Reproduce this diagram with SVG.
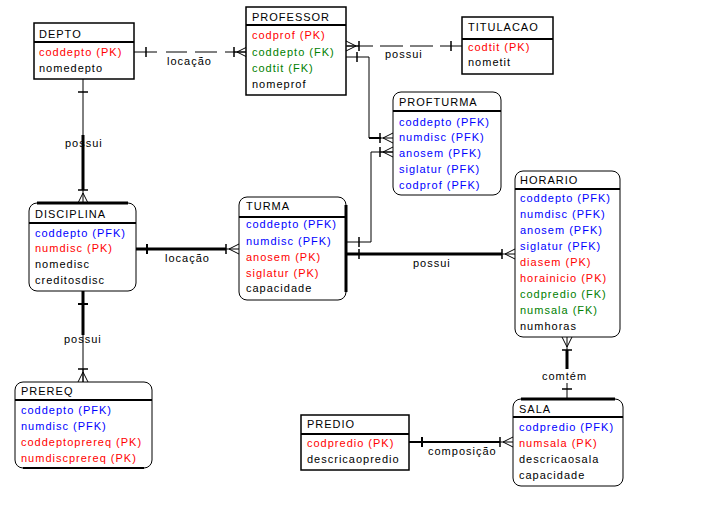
<svg xmlns="http://www.w3.org/2000/svg" xmlns:xlink="http://www.w3.org/1999/xlink" width="703" height="518" viewBox="0 0 703 518">
<style>
text{font-family:"Liberation Sans",Arial,sans-serif;font-size:11px;letter-spacing:1px;fill:#000}
.r{fill:#ff0000}.b{fill:#0000ff}.g{fill:#008000}
.box{fill:#fff;stroke:#000;stroke-width:1.5}
.rbox{fill:#fff;stroke:#000;stroke-width:1}
.div{stroke:#000;stroke-width:2}
.ln{fill:none;stroke:#000;stroke-width:1}
.thk{fill:none;stroke:#000;stroke-width:3}
.mid{fill:none;stroke:#000;stroke-width:2}
</style>
<defs>
<g id="crow" fill="none" stroke="#000" stroke-width="1"><path d="M-13,0 L0,0 M-10,0 L0,-5 M-10,0 L0,5"/><path d="M-13,-5 V5" stroke-width="1.5"/></g>
<path id="tick" d="M0,-5 V5" stroke="#000" stroke-width="1.5"/>
</defs>
<rect width="703" height="518" fill="#fff"/>

<g id="connectors">
<path class="ln" d="M134,52 H157 M166,52 H187 M195,52 H217 M225,52 H247"/>
<use xlink:href="#tick" transform="translate(146,52)"/>
<use xlink:href="#crow" transform="translate(247,52)"/>
<text x="167" y="65">locação</text>

<path class="ln" d="M347,46 H373 M380,46 H403 M410,46 H433 M440,46 H462"/>
<use xlink:href="#crow" transform="translate(346,46) rotate(180)"/>
<use xlink:href="#tick" transform="translate(451,46)"/>
<text x="385" y="58">possui</text>

<path class="ln" d="M346,57 H369 V138"/>
<path class="mid" d="M369,138 H381"/>
<use xlink:href="#tick" transform="translate(357,57)"/>
<use xlink:href="#crow" transform="translate(393,138)"/>

<path class="ln" d="M347,242 H371 V152 H393"/>
<use xlink:href="#tick" transform="translate(359,242)"/>
<use xlink:href="#crow" transform="translate(393,152)"/>

<path class="thk" d="M136,249 H226"/>
<path d="M147,244 V254" stroke="#000" stroke-width="2"/>
<use xlink:href="#crow" transform="translate(239,249)"/>
<text x="165" y="262">locação</text>

<path class="thk" d="M347,254 H502"/>
<use xlink:href="#tick" transform="translate(359,254)"/>
<use xlink:href="#crow" transform="translate(515,254)"/>
<text x="413" y="267">possui</text>

<path class="ln" d="M83,79 V135"/>
<path class="thk" d="M83,135 V190"/>
<path d="M78,92 H88" stroke="#000" stroke-width="1.5"/>
<use xlink:href="#crow" transform="translate(83,203) rotate(90)"/>
<text x="65" y="147">possui</text>

<path class="thk" d="M83,291 V335"/>
<path class="ln" d="M83,335 V382"/>
<path d="M78,304 H88" stroke="#000" stroke-width="2"/>
<use xlink:href="#crow" transform="translate(83,382) rotate(90)"/>
<text x="64" y="343">possui</text>

<path class="thk" d="M567,350 V369"/>
<path class="ln" d="M567,383 V399"/>
<use xlink:href="#crow" transform="translate(567,337) rotate(-90)"/>
<use xlink:href="#tick" transform="translate(567,389) rotate(90)"/>
<text x="542" y="380">comtém</text>

<path class="mid" d="M409,442 H500"/>
<path d="M422,437 V447" stroke="#000" stroke-width="2"/>
<use xlink:href="#crow" transform="translate(513,442)"/>
<text x="428" y="455">composição</text>
</g>

<g id="DEPTO">
<rect class="box" x="34" y="23" width="100" height="56"/>
<line class="div" x1="34" y1="42" x2="134" y2="42"/>
<text x="39" y="38">DEPTO</text>
<text x="39" y="56" class="r">coddepto (PK)</text>
<text x="39" y="72">nomedepto</text>
</g>

<g id="PROFESSOR">
<rect class="box" x="246" y="7" width="100" height="88"/>
<line class="div" x1="246" y1="25" x2="346" y2="25"/>
<text x="252" y="21">PROFESSOR</text>
<text x="252" y="39" class="r">codprof (PK)</text>
<text x="252" y="56" class="g">coddepto (FK)</text>
<text x="252" y="72" class="g">codtit (FK)</text>
<text x="252" y="88">nomeprof</text>
</g>

<g id="TITULACAO">
<rect class="box" x="462" y="17" width="91" height="57"/>
<line class="div" x1="462" y1="39" x2="553" y2="39"/>
<text x="468" y="31">TITULACAO</text>
<text x="468" y="51" class="r">codtit (PK)</text>
<text x="468" y="66">nometit</text>
</g>

<g id="PROFTURMA">
<rect class="rbox" x="393" y="92" width="108" height="103" rx="8"/>
<line class="div" x1="393" y1="111" x2="501" y2="111"/>
<text x="399" y="106">PROFTURMA</text>
<text x="399" y="126" class="b">coddepto (PFK)</text>
<text x="399" y="141" class="b">numdisc (PFK)</text>
<text x="399" y="157" class="b">anosem (PFK)</text>
<text x="399" y="173" class="b">siglatur (PFK)</text>
<text x="399" y="189" class="b">codprof (PFK)</text>
</g>

<g id="DISCIPLINA">
<rect class="rbox" x="29" y="203" width="107" height="88" rx="8"/>
<line class="thk" x1="37" y1="203" x2="128" y2="203"/>
<line class="div" x1="29" y1="223" x2="136" y2="223"/>
<text x="35" y="218">DISCIPLINA</text>
<text x="35" y="237" class="b">coddepto (PFK)</text>
<text x="35" y="252" class="r">numdisc (PK)</text>
<text x="35" y="268">nomedisc</text>
<text x="35" y="284">creditosdisc</text>
</g>

<g id="TURMA">
<rect class="rbox" x="239" y="197" width="107" height="103" rx="8"/>
<line class="thk" x1="346" y1="205" x2="346" y2="292"/>
<line class="div" x1="239" y1="217" x2="346" y2="217"/>
<text x="246" y="210">TURMA</text>
<text x="246" y="228" class="b">coddepto (PFK)</text>
<text x="246" y="245" class="b">numdisc (PFK)</text>
<text x="246" y="261" class="r">anosem (PK)</text>
<text x="246" y="277" class="r">siglatur (PK)</text>
<text x="246" y="292">capacidade</text>
</g>

<g id="HORARIO">
<rect class="rbox" x="515" y="171" width="105" height="166" rx="8"/>
<line class="div" x1="515" y1="189" x2="620" y2="189"/>
<text x="520" y="184">HORARIO</text>
<text x="520" y="202" class="b">coddepto (PFK)</text>
<text x="520" y="218" class="b">numdisc (PFK)</text>
<text x="520" y="234" class="b">anosem (PFK)</text>
<text x="520" y="250" class="b">siglatur (PFK)</text>
<text x="520" y="266" class="r">diasem (PK)</text>
<text x="520" y="282" class="r">horainicio (PK)</text>
<text x="520" y="298" class="g">codpredio (FK)</text>
<text x="520" y="314" class="g">numsala (FK)</text>
<text x="520" y="330">numhoras</text>
</g>

<g id="PREREQ">
<rect class="rbox" x="15" y="382" width="137" height="86" rx="8"/>
<line class="mid" x1="23" y1="468" x2="144" y2="468"/>
<line class="div" x1="15" y1="400" x2="152" y2="400"/>
<text x="21" y="395">PREREQ</text>
<text x="21" y="414" class="b">coddepto (PFK)</text>
<text x="21" y="430" class="b">numdisc (PFK)</text>
<text x="21" y="446" class="r">coddeptoprereq (PK)</text>
<text x="21" y="462" class="r">numdiscprereq (PK)</text>
</g>

<g id="PREDIO">
<rect class="box" x="301" y="415" width="108" height="55"/>
<line class="div" x1="301" y1="434" x2="409" y2="434"/>
<text x="307" y="428">PREDIO</text>
<text x="307" y="447" class="r">codpredio (PK)</text>
<text x="307" y="463">descricaopredio</text>
</g>

<g id="SALA">
<rect class="rbox" x="513" y="399" width="110" height="87" rx="8"/>
<line class="thk" x1="521" y1="399" x2="615" y2="399"/>
<line class="div" x1="513" y1="417" x2="623" y2="417"/>
<text x="519" y="413">SALA</text>
<text x="519" y="431" class="b">codpredio (PFK)</text>
<text x="519" y="447" class="r">numsala (PK)</text>
<text x="519" y="463">descricaosala</text>
<text x="519" y="479">capacidade</text>
</g>
</svg>
